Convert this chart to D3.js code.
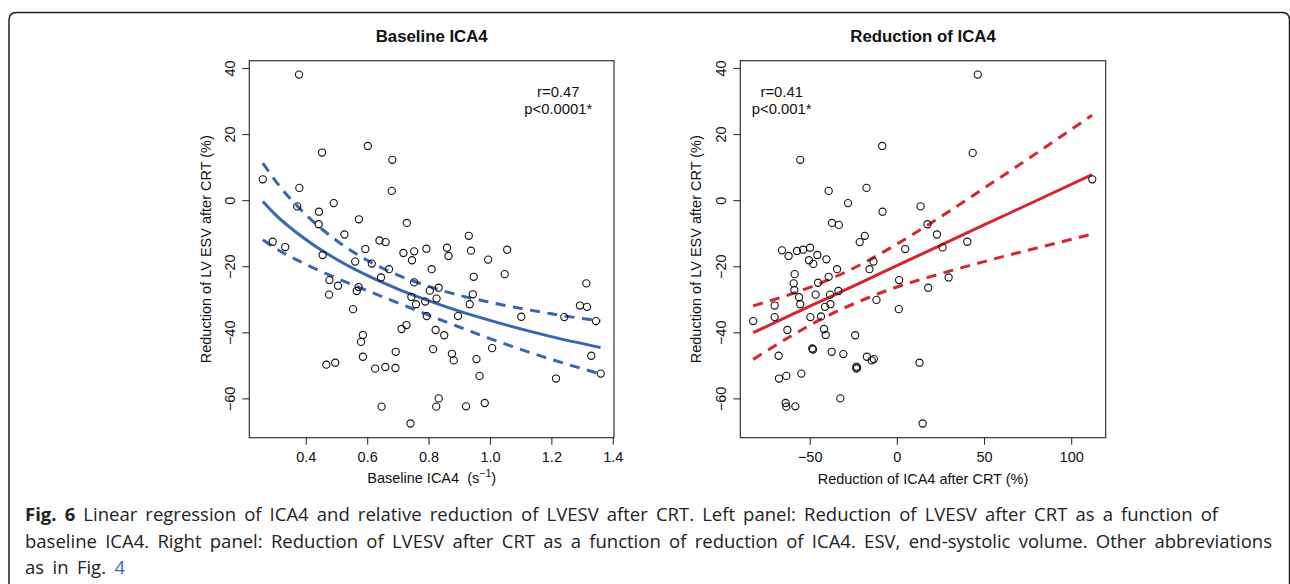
<!DOCTYPE html>
<html>
<head>
<meta charset="utf-8">
<script src="https://cdn.jsdelivr.net/npm/d3@7/dist/d3.min.js"></script>
<style>
  html, body { margin: 0; padding: 0; background: #fff; }
  svg { display: block; }
</style>
</head>
<body>
<svg id="chart" width="1290" height="584"></svg>
<script>
// ---------------- DATA ----------------
const yTicks = [-60, -40, -20, 0, 20, 40];
const leftXTicks = [0.4, 0.6, 0.8, 1.0, 1.2, 1.4];
const rightXTicks = [-50, 0, 50, 100];

const leftX = [0.378,0.260,0.379,0.372,0.443,0.442,0.491,0.453,0.602,0.682,
  0.680,0.573,0.729,0.526,0.292,0.333,0.455,0.640,0.660,0.594,
  0.718,0.753,0.793,0.860,0.865,0.931,0.938,1.056,0.994,0.561,
  0.615,0.746,0.671,0.810,0.645,0.947,1.048,0.477,0.505,0.566,
  0.572,0.476,0.753,0.833,0.804,0.744,0.826,0.944,0.759,0.789,
  0.934,0.554,0.794,0.896,1.102,1.242,1.293,1.316,1.314,1.345,
  0.728,0.712,0.823,0.851,0.586,0.580,0.586,0.693,0.815,0.876,
  0.882,0.956,1.007,1.330,1.361,0.467,0.496,0.626,0.659,0.692,
  0.966,1.215,0.647,0.833,0.825,0.922,0.983,0.741];
const leftY = [38.0,6.3,3.7,-1.9,-3.5,-7.3,-0.9,14.4,16.4,12.2,
  2.8,-5.8,-6.9,-10.4,-12.6,-14.2,-16.6,-12.2,-12.7,-14.8,
  -16.0,-15.5,-14.7,-14.4,-16.9,-10.8,-15.3,-15.0,-18.0,-18.6,
  -19.2,-18.2,-20.9,-20.9,-23.4,-23.2,-22.4,-24.2,-25.9,-27.5,
  -26.3,-28.6,-24.9,-26.5,-27.4,-29.3,-29.8,-28.5,-31.5,-30.7,
  -31.5,-33.0,-35.1,-35.1,-35.3,-35.4,-31.9,-32.3,-25.2,-36.6,
  -37.8,-39.0,-39.3,-40.9,-40.8,-42.9,-47.4,-45.9,-45.1,-46.5,
  -48.5,-48.1,-44.8,-47.1,-52.5,-49.8,-49.2,-51.0,-50.5,-50.8,
  -53.2,-54.0,-62.5,-60.0,-62.5,-62.4,-61.4,-67.6];

const rightX = [46.4,112.1,43.5,-8.4,-55.4,-17.4,-39.1,-28.0,13.6,-8.2,
  17.6,-37.2,-33.3,23.0,-18.4,-21.3,40.4,4.8,26.2,-65.9,
  -57.3,-53.8,-49.8,-62.1,-45.6,-50.4,-47.9,-40.4,-13.4,-34.3,
  -15.7,-58.6,-39.1,1.3,29.7,-59.2,-45.2,18.0,-58.8,-33.5,
  -46.6,-38.3,-56.1,-55.4,-70.1,-41.2,-38.1,-11.7,1.1,-82.4,
  -70.1,-49.6,-43.5,-62.8,-41.8,-40.8,-23.9,-48.5,-48.1,-67.8,
  -37.4,-30.7,-17.2,-14.4,-13.2,-23.2,-23.2,-22.8,13.0,-54.8,
  -67.6,-63.4,-63.8,-63.4,-58.2,-32.4,14.8];
const rightY = [38.0,6.3,14.3,16.4,12.2,3.7,2.8,-0.9,-1.9,-3.5,
  -7.3,-6.9,-7.5,-10.4,-10.8,-12.7,-12.6,-14.8,-14.3,-15.2,
  -15.4,-15.0,-14.4,-16.9,-16.6,-18.2,-19.3,-17.9,-18.6,-20.9,
  -20.9,-22.4,-23.2,-24.2,-23.4,-25.2,-25.0,-26.5,-27.2,-27.5,
  -28.6,-28.6,-29.4,-31.5,-31.9,-32.3,-31.5,-30.2,-33.0,-36.6,
  -35.4,-35.4,-35.2,-39.3,-39.0,-40.8,-40.9,-44.9,-45.2,-47.1,
  -45.9,-46.6,-47.4,-48.5,-48.1,-50.4,-51.0,-50.7,-49.2,-52.5,
  -54.0,-53.2,-61.4,-62.5,-62.4,-60.0,-67.6];

// regression curves
const leftCurveX = [0.26,0.3,0.4,0.5,0.6,0.7,0.8,0.9,1.0,1.2,1.36];
const leftFit   = [-0.4,-4.3,-11.9,-17.9,-22.8,-26.9,-30.4,-33.6,-36.4,-41.3,-44.6];
const leftUpper = [11.2,6.0,-4.4,-12.2,-18.2,-22.7,-26.1,-28.8,-30.9,-34.4,-36.6];
const leftLower = [-12.0,-14.5,-19.4,-23.6,-27.4,-31.1,-34.8,-38.4,-41.9,-48.2,-52.6];

const rightCurveX = [-82.4,-60,-40,-20,0,25,50,75,112];
const rightFit   = [-40.1,-34.6,-29.7,-24.8,-19.8,-13.7,-7.5,-1.4,7.7];
const rightUpper = [-32.0,-28.3,-24.3,-19.3,-13.3,-5.1,3.6,12.4,25.7];
const rightLower = [-48.2,-40.9,-35.1,-30.3,-26.3,-22.3,-18.6,-15.2,-10.3];

const captionLines = [
  "Linear regression of ICA4 and relative reduction of LVESV after CRT. Left panel: Reduction of LVESV after CRT as a function of",
  "baseline ICA4. Right panel: Reduction of LVESV after CRT as a function of reduction of ICA4. ESV, end-systolic volume. Other abbreviations",
  "as in Fig. "
];

// ---------------- DRAW ----------------
const svg = d3.select("#chart");
const FONT = '"Liberation Sans", Arial, Helvetica, sans-serif';

// outer frame
svg.append("path")
  .attr("d", "M9,584 L9,20 Q9,12.5 16.5,12.5 L1282,12.5 Q1289.5,12.5 1289.5,20 L1289.5,584")
  .attr("fill", "none").attr("stroke", "#222").attr("stroke-width", 1.5);

const plotTop = 60.7, plotBottom = 437.7;
const yScale = d3.scaleLinear().domain([-71.9, 42.2]).range([plotBottom, plotTop]);

function panel(cfg) {
  const x = d3.scaleLinear().domain(cfg.xDomain).range([cfg.x0, cfg.x1]);
  const g = svg.append("g");

  // box
  g.append("rect").attr("x", cfg.x0).attr("y", plotTop)
    .attr("width", cfg.x1 - cfg.x0).attr("height", plotBottom - plotTop)
    .attr("fill", "none").attr("stroke", "#333").attr("stroke-width", 1.2);

  // axes via d3
  const xAxis = d3.axisBottom(x).tickValues(cfg.xTicks).tickSize(7)
    .tickFormat(cfg.xFmt);
  const xg = g.append("g").attr("transform", `translate(0,${plotBottom})`).call(xAxis);
  xg.select(".domain").remove();
  xg.selectAll("line").attr("stroke", "#333").attr("stroke-width", 1.1);
  xg.selectAll("text").attr("font-family", FONT).attr("font-size", 14.5)
    .attr("fill", "#111").attr("dy", null).attr("y", 24);

  const yAxis = d3.axisLeft(yScale).tickValues(yTicks).tickSize(7)
    .tickFormat(d => d3.format("d")(d).replace("-", "\u2212"));
  const yg = g.append("g").attr("transform", `translate(${cfg.x0},0)`).call(yAxis);
  yg.select(".domain").remove();
  yg.selectAll("line").attr("stroke", "#333").attr("stroke-width", 1.1);
  yg.selectAll("text")
    .attr("font-family", FONT).attr("font-size", 14.5).attr("fill", "#111")
    .attr("x", null).attr("dy", null)
    .attr("text-anchor", "middle")
    .attr("transform", `translate(${-cfg.yTickOff},0) rotate(-90)`);

  // title
  g.append("text").attr("x", (cfg.x0 + cfg.x1) / 2).attr("y", 41.7)
    .attr("text-anchor", "middle").attr("font-family", FONT)
    .attr("font-weight", "bold").attr("font-size", 16.8).attr("fill", "#111")
    .text(cfg.title);

  // y label
  g.append("text")
    .attr("transform", `translate(${cfg.yLabX},${(plotTop + plotBottom) / 2}) rotate(-90)`)
    .attr("text-anchor", "middle").attr("font-family", FONT)
    .attr("font-size", 14.5).attr("fill", "#111")
    .text("Reduction of LV ESV after CRT (%)");

  // x label
  const xl = g.append("text").attr("x", (cfg.x0 + cfg.x1) / 2).attr("y", cfg.xLabY)
    .attr("text-anchor", "middle").attr("font-family", FONT)
    .attr("font-size", 14.5).attr("fill", "#111")
    .style("white-space", "pre");
  cfg.xLabel(xl);

  // annotations
  cfg.annot.forEach((t, i) => {
    g.append("text").attr("x", cfg.annX).attr("y", 97.3 + i * 17)
      .attr("text-anchor", "middle").attr("font-family", FONT)
      .attr("font-size", 14.8).attr("fill", "#111").text(t);
  });

  // curves
  const line = d3.line().x(d => x(d[0])).y(d => yScale(d[1])).curve(d3.curveMonotoneX);
  const mk = ys => cfg.curveX.map((v, i) => [v, ys[i]]);
  [[cfg.upper, true], [cfg.lower, true], [cfg.fit, false]].forEach(([ys, dashed]) => {
    g.append("path").attr("d", line(mk(ys)))
      .attr("fill", "none").attr("stroke", cfg.color).attr("stroke-width", 3)
      .attr("stroke-dasharray", dashed ? "10,7.5" : null);
  });

  // points
  g.append("g").selectAll("circle")
    .data(cfg.px.map((v, i) => [v, cfg.py[i]]))
    .join("circle")
    .attr("cx", d => x(d[0])).attr("cy", d => yScale(d[1]))
    .attr("r", 3.6).attr("fill", "none").attr("stroke", "#111").attr("stroke-width", 1.1);
}

panel({
  x0: 249.3, x1: 614, xDomain: [0.216, 1.404], xTicks: leftXTicks,
  xFmt: d3.format(".1f"), yTickOff: 14, title: "Baseline ICA4",
  yLabX: 210.5, xLabY: 483.3,
  xLabel: t => {
    t.append("tspan").text("Baseline ICA4  (s");
    t.append("tspan").attr("font-size", 10.5).attr("dy", -6).text("\u22121");
    t.append("tspan").attr("dy", 6).text(")");
  },
  annot: ["r=0.47", "p<0.0001*"], annX: 558.3,
  curveX: leftCurveX, fit: leftFit, upper: leftUpper, lower: leftLower,
  color: "#3567b3", px: leftX, py: leftY
});

panel({
  x0: 740.3, x1: 1105.7, xDomain: [-89.8, 119.8], xTicks: rightXTicks,
  xFmt: d => d3.format("d")(d).replace("-", "\u2212"), yTickOff: 14,
  title: "Reduction of ICA4", yLabX: 701, xLabY: 484,
  xLabel: t => t.text("Reduction of ICA4 after CRT (%)"),
  annot: ["r=0.41", "p<0.001*"], annX: 781.7,
  curveX: rightCurveX, fit: rightFit, upper: rightUpper, lower: rightLower,
  color: "#d4262f", px: rightX, py: rightY
});

// caption
const CAP_FONT = '"Open Sans", "Noto Sans", sans-serif';
const capTargets = [1218, 1272, 125];
captionLines.forEach((txt, i) => {
  const t = svg.append("text").attr("x", 25).attr("y", 521 + i * 26.6)
    .attr("font-family", CAP_FONT).attr("font-size", 18.5).attr("fill", "#222")
    .style("white-space", "pre");
  if (i === 0) {
    t.append("tspan").attr("font-weight", "bold").text("Fig. 6");
    t.append("tspan").text(" " + txt);
  } else {
    t.append("tspan").text(txt);
  }
  if (i === 2) {
    t.append("tspan").attr("fill", "#3b5fd9").text("4");
  }
  const w = t.node().getComputedTextLength();
  const want = capTargets[i] - 25;
  const nSpaces = (txt.match(/ /g) || []).length + (i === 0 ? 2 : 0);
  if (w < want) {
    t.attr("word-spacing", (want - w) / nSpaces);
  } else {
    t.attr("textLength", want).attr("lengthAdjust", "spacingAndGlyphs");
  }
});
</script>
</body>
</html>
